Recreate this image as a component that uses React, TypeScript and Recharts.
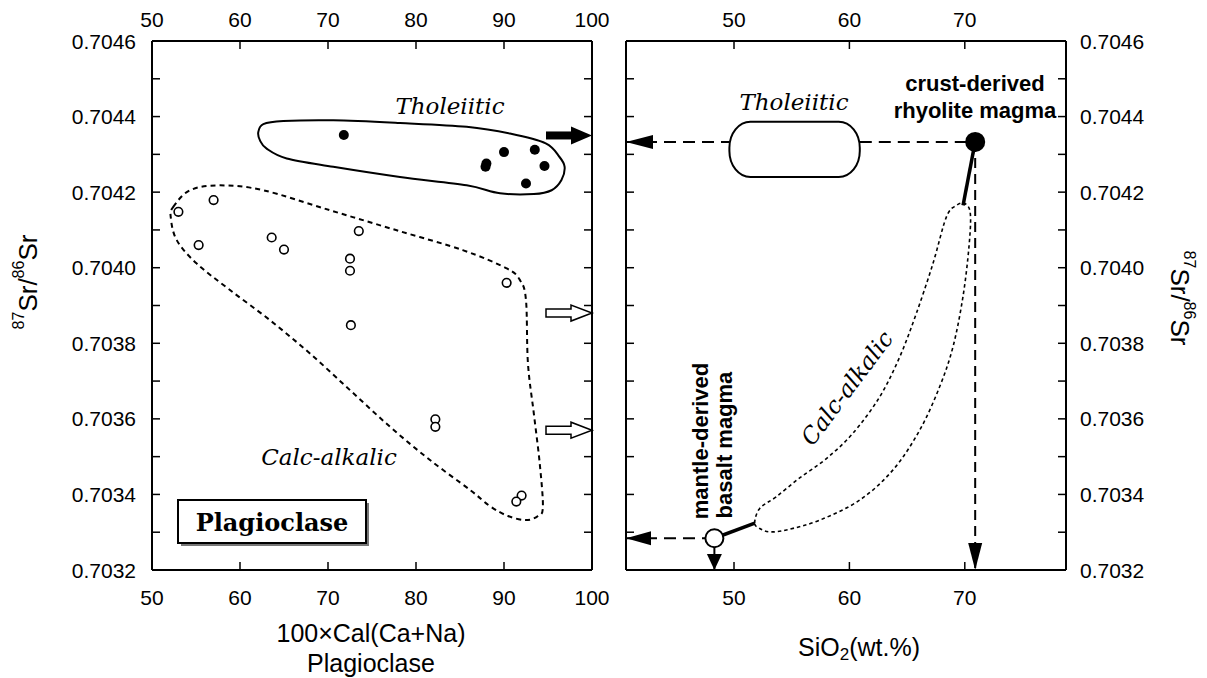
import React from "react";
import { ScatterChart, Scatter, XAxis, YAxis, ReferenceDot, ReferenceArea } from "recharts";

const SANS = "'Liberation Sans', Arial, Helvetica, sans-serif";
const SERIF = "'DejaVu Serif', 'Liberation Serif', serif";

// axes
const srDomain = [0.7032, 0.7046];
const srTicks = [
  0.7032, 0.7033, 0.7034, 0.7035, 0.7036, 0.7037, 0.7038, 0.7039, 0.704, 0.7041, 0.7042, 0.7043,
  0.7044, 0.7045, 0.7046,
];
const anDomain = [50, 100];
const anTicks = [50, 60, 70, 80, 90, 100];
const silicaDomain = [40.64, 78.77];
const silicaTicks = [50, 60, 70];

// left panel: plagioclase 87Sr/86Sr vs An content
const tholeiiticPlag = [
  { x: 71.8, y: 0.704351 },
  { x: 88.0, y: 0.704276 },
  { x: 87.9, y: 0.704267 },
  { x: 90.0, y: 0.704306 },
  { x: 93.5, y: 0.704312 },
  { x: 94.6, y: 0.704269 },
  { x: 92.5, y: 0.704223 },
];
const calcAlkalicPlag = [
  { x: 53.0, y: 0.704148 },
  { x: 57.0, y: 0.704179 },
  { x: 55.3, y: 0.70406 },
  { x: 63.6, y: 0.70408 },
  { x: 65.0, y: 0.704048 },
  { x: 73.5, y: 0.704097 },
  { x: 72.5, y: 0.704024 },
  { x: 72.5, y: 0.703992 },
  { x: 72.6, y: 0.703848 },
  { x: 90.3, y: 0.70396 },
  { x: 82.2, y: 0.703599 },
  { x: 82.2, y: 0.703579 },
  { x: 92.0, y: 0.703397 },
  { x: 91.4, y: 0.703381 },
];
const tholeiiticField = [
  { x: 62.08, y: 0.704359 },
  { x: 62.65, y: 0.70438 },
  { x: 64.92, y: 0.704388 },
  { x: 70.6, y: 0.70439 },
  { x: 78.18, y: 0.704383 },
  { x: 85.76, y: 0.704373 },
  { x: 90.68, y: 0.704355 },
  { x: 94.74, y: 0.704329 },
  { x: 96.31, y: 0.704293 },
  { x: 96.89, y: 0.704267 },
  { x: 96.53, y: 0.704232 },
  { x: 95.41, y: 0.704205 },
  { x: 93.39, y: 0.704195 },
  { x: 89.55, y: 0.704197 },
  { x: 85.76, y: 0.704218 },
  { x: 78.18, y: 0.70424 },
  { x: 70.6, y: 0.704267 },
  { x: 65.31, y: 0.704289 },
  { x: 63.03, y: 0.704315 },
  { x: 62.27, y: 0.704337 },
];
const calcAlkalicField = [
  { x: 52.42, y: 0.704161 },
  { x: 54.32, y: 0.704205 },
  { x: 57.73, y: 0.704218 },
  { x: 62.65, y: 0.704205 },
  { x: 70.23, y: 0.704152 },
  { x: 77.81, y: 0.704099 },
  { x: 85.38, y: 0.704046 },
  { x: 90.31, y: 0.703998 },
  { x: 91.82, y: 0.703967 },
  { x: 92.5, y: 0.703914 },
  { x: 92.72, y: 0.703747 },
  { x: 93.39, y: 0.703614 },
  { x: 94.06, y: 0.703482 },
  { x: 94.42, y: 0.703367 },
  { x: 93.86, y: 0.703343 },
  { x: 92.5, y: 0.703332 },
  { x: 90.45, y: 0.703343 },
  { x: 88.41, y: 0.703369 },
  { x: 86.14, y: 0.703412 },
  { x: 81.59, y: 0.703491 },
  { x: 77.05, y: 0.703579 },
  { x: 72.5, y: 0.703676 },
  { x: 67.95, y: 0.703773 },
  { x: 63.41, y: 0.703861 },
  { x: 58.86, y: 0.703941 },
  { x: 55.08, y: 0.704011 },
  { x: 52.81, y: 0.704073 },
  { x: 52.13, y: 0.704134 },
];
const filledArrowLevels = [0.70435];
const openArrowLevels = [0.70388, 0.70357];

// right panel: 87Sr/86Sr vs SiO2
const rhyoliteMagma = { x: 70.9, y: 0.704333 };
const basaltMagma = { x: 48.3, y: 0.703284 };
const calcAlkalicTop = { x: 69.85, y: 0.704165 };
const calcAlkalicBase = { x: 51.8, y: 0.703324 };
const tholeiiticBox = { x1: 49.6, x2: 60.9, y1: 0.70424, y2: 0.704386 };
const calcAlkalicTrend = [
  { x: 51.79, y: 0.703324 },
  { x: 52.23, y: 0.703363 },
  { x: 53.67, y: 0.703394 },
  { x: 55.66, y: 0.703443 },
  { x: 58.01, y: 0.703495 },
  { x: 60.31, y: 0.703562 },
  { x: 62.62, y: 0.703658 },
  { x: 64.36, y: 0.703764 },
  { x: 65.8, y: 0.703879 },
  { x: 67.24, y: 0.704011 },
  { x: 68.4, y: 0.704134 },
  { x: 69.27, y: 0.704165 },
  { x: 69.99, y: 0.70417 },
  { x: 70.48, y: 0.704143 },
  { x: 70.36, y: 0.704055 },
  { x: 69.84, y: 0.703923 },
  { x: 68.98, y: 0.703791 },
  { x: 67.82, y: 0.703685 },
  { x: 66.09, y: 0.70357 },
  { x: 63.78, y: 0.703465 },
  { x: 60.89, y: 0.703385 },
  { x: 57.43, y: 0.703332 },
  { x: 54.54, y: 0.703306 },
  { x: 53.09, y: 0.703301 },
  { x: 52.23, y: 0.70331 },
];

// closed Catmull-Rom curve through the outline points
const smoothClosed = (context: any) => {
  let pts: number[][] = [];
  return {
    areaStart() {},
    areaEnd() {},
    lineStart() {
      pts = [];
    },
    point(x: number, y: number) {
      pts.push([x, y]);
    },
    lineEnd() {
      const n = pts.length;
      if (!n) return;
      context.moveTo(pts[0][0], pts[0][1]);
      for (let i = 0; i < n; i++) {
        const p0 = pts[(i - 1 + n) % n];
        const p1 = pts[i];
        const p2 = pts[(i + 1) % n];
        const p3 = pts[(i + 2) % n];
        context.bezierCurveTo(
          p1[0] + (p2[0] - p0[0]) / 6,
          p1[1] + (p2[1] - p0[1]) / 6,
          p2[0] - (p3[0] - p1[0]) / 6,
          p2[1] - (p3[1] - p1[1]) / 6,
          p2[0],
          p2[1]
        );
      }
      context.closePath();
    },
  };
};

const TICK = 8;
const tickStroke = { stroke: "#000", strokeWidth: 1.5 };
const frame = { stroke: "#000", strokeWidth: 2 };
const tickFont = { fontFamily: SANS, fontSize: 21, fill: "#000" };

const BottomTick = (p: any) => (
  <g>
    <line x1={p.x} y1={p.y} x2={p.x} y2={p.y - TICK} {...tickStroke} />
    <text x={p.x} y={p.y + 27} textAnchor="middle" dominantBaseline="central" {...tickFont}>
      {p.payload.value}
    </text>
  </g>
);
const TopTick = (p: any) => (
  <g>
    <line x1={p.x} y1={p.y} x2={p.x} y2={p.y + TICK} {...tickStroke} />
    <text x={p.x} y={p.y - 22} textAnchor="middle" dominantBaseline="central" {...tickFont}>
      {p.payload.value}
    </text>
  </g>
);
const LeftTick = (labelled: boolean) => (p: any) => (
  <g>
    <line x1={p.x} y1={p.y} x2={p.x + TICK} y2={p.y} {...tickStroke} />
    {labelled && p.index % 2 === 0 && (
      <text x={p.x - 16} y={p.y} textAnchor="end" dominantBaseline="central" {...tickFont}>
        {Number(p.payload.value).toFixed(4)}
      </text>
    )}
  </g>
);
const RightTick = (labelled: boolean) => (p: any) => (
  <g>
    <line x1={p.x} y1={p.y} x2={p.x - TICK} y2={p.y} {...tickStroke} />
    {labelled && p.index % 2 === 0 && (
      <text x={p.x + 14} y={p.y} textAnchor="start" dominantBaseline="central" {...tickFont}>
        {Number(p.payload.value).toFixed(4)}
      </text>
    )}
  </g>
);

const noPoint = () => <g />;

const path = (key: string, data: any[], line: any, joint: any = "linear") => (
  <Scatter
    key={key}
    data={data}
    shape={noPoint}
    line={{ fill: "none", ...line }}
    lineJointType={joint}
    isAnimationActive={false}
  />
);

const openDot = (r: number, sw: number) => (p: any) => (
  <circle cx={p.cx} cy={p.cy} r={r} fill="#fff" stroke="#000" strokeWidth={sw} />
);
const filledDot = (r: number) => (p: any) => <circle cx={p.cx} cy={p.cy} r={r} fill="#000" />;

const filledArrow = (p: any) => (
  <g>
    <rect x={p.cx - 46} y={p.cy - 4} width={27} height={8} fill="#000" />
    <polygon points={`${p.cx},${p.cy} ${p.cx - 21},${p.cy - 9} ${p.cx - 21},${p.cy + 9}`} fill="#000" />
  </g>
);
const openArrow = (p: any) => (
  <polygon
    points={`${p.cx - 46},${p.cy - 4} ${p.cx - 21},${p.cy - 4} ${p.cx - 21},${p.cy - 8} ${p.cx},${p.cy} ${
      p.cx - 21
    },${p.cy + 8} ${p.cx - 21},${p.cy + 4} ${p.cx - 46},${p.cy + 4}`}
    fill="#fff"
    stroke="#000"
    strokeWidth={1.5}
  />
);
const headLeft = (len: number, half: number) => (p: any) => (
  <polygon points={`${p.cx},${p.cy} ${p.cx + len},${p.cy - half} ${p.cx + len},${p.cy + half}`} fill="#000" />
);
const headDown = (len: number, half: number) => (p: any) => (
  <polygon points={`${p.cx},${p.cy} ${p.cx - half},${p.cy - len} ${p.cx + half},${p.cy - len}`} fill="#000" />
);

// axes are 1px thick boxes (a 0px axis is not drawn), margins are reduced by 1px to match
const axes = (xDomain: number[], xTicks: number[], leftLabels: boolean, rightLabels: boolean) => [
  <XAxis
    key="xb"
    xAxisId={0}
    type="number"
    dataKey="x"
    domain={xDomain}
    ticks={xTicks}
    allowDataOverflow
    interval={0}
    height={1}
    tickSize={0}
    tickMargin={0}
    tickLine={false}
    axisLine={frame}
    tick={BottomTick}
  />,
  <XAxis
    key="xt"
    xAxisId="top"
    orientation="top"
    type="number"
    dataKey="x"
    domain={xDomain}
    ticks={xTicks}
    allowDataOverflow
    interval={0}
    height={1}
    tickSize={0}
    tickMargin={0}
    tickLine={false}
    axisLine={frame}
    tick={TopTick}
  />,
  <YAxis
    key="yl"
    yAxisId={0}
    type="number"
    dataKey="y"
    domain={srDomain}
    ticks={srTicks}
    allowDataOverflow
    interval={0}
    width={1}
    tickSize={0}
    tickMargin={0}
    tickLine={false}
    axisLine={frame}
    tick={LeftTick(leftLabels)}
  />,
  <YAxis
    key="yr"
    yAxisId="right"
    orientation="right"
    type="number"
    dataKey="y"
    domain={srDomain}
    ticks={srTicks}
    allowDataOverflow
    interval={0}
    width={1}
    tickSize={0}
    tickMargin={0}
    tickLine={false}
    axisLine={frame}
    tick={RightTick(rightLabels)}
  />,
];

function PlagioclasePanel() {
  return (
    <ScatterChart width={620} height={678} margin={{ top: 40, right: 27, bottom: 107, left: 151 }}>
      {axes(anDomain, anTicks, true, false)}
      {path("thol", tholeiiticField, { stroke: "#000", strokeWidth: 2 }, smoothClosed)}
      {path("calc", calcAlkalicField, { stroke: "#000", strokeWidth: 2, strokeDasharray: "5 4" }, smoothClosed)}
      <Scatter data={calcAlkalicPlag} shape={openDot(4.3, 1.6)} isAnimationActive={false} />
      <Scatter data={tholeiiticPlag} shape={filledDot(5)} isAnimationActive={false} />
      {filledArrowLevels.map((v) => (
        <ReferenceDot key={`f${v}`} x={100} y={v} shape={filledArrow} />
      ))}
      {openArrowLevels.map((v) => (
        <ReferenceDot key={`o${v}`} x={100} y={v} shape={openArrow} />
      ))}
    </ScatterChart>
  );
}

function SilicaPanel() {
  const left = silicaDomain[0];
  const bottom = srDomain[0];
  const ry = rhyoliteMagma.y;
  const by = basaltMagma.y;
  return (
    <ScatterChart width={607} height={678} margin={{ top: 40, right: 140, bottom: 107, left: 25 }}>
      {axes(silicaDomain, silicaTicks, false, true)}
      {path("trend", calcAlkalicTrend, { stroke: "#000", strokeWidth: 1.6, strokeDasharray: "3.5 3" }, smoothClosed)}
      {path("rv", [rhyoliteMagma, { x: rhyoliteMagma.x, y: bottom }], {
        stroke: "#000",
        strokeWidth: 2,
        strokeDasharray: "10 6",
      })}
      {path("rh1", [{ x: left, y: ry }, { x: tholeiiticBox.x1, y: ry }], {
        stroke: "#000",
        strokeWidth: 2,
        strokeDasharray: "12 7",
      })}
      {path("rh2", [{ x: tholeiiticBox.x2, y: ry }, rhyoliteMagma], {
        stroke: "#000",
        strokeWidth: 2,
        strokeDasharray: "12 7",
      })}
      {path("bh", [{ x: left, y: by }, basaltMagma], { stroke: "#000", strokeWidth: 2, strokeDasharray: "12 7" })}
      {path("bv", [basaltMagma, { x: basaltMagma.x, y: bottom }], { stroke: "#000", strokeWidth: 2 })}
      {path("rs", [rhyoliteMagma, calcAlkalicTop], { stroke: "#000", strokeWidth: 3.5 })}
      {path("bs", [basaltMagma, calcAlkalicBase], { stroke: "#000", strokeWidth: 3.5 })}
      <ReferenceArea
        x1={tholeiiticBox.x1}
        x2={tholeiiticBox.x2}
        y1={tholeiiticBox.y1}
        y2={tholeiiticBox.y2}
        shape={(p: any) => (
          <rect x={p.x} y={p.y} width={p.width} height={p.height} rx={21} ry={26} fill="#fff" stroke="#000" strokeWidth={2} />
        )}
      />
      <ReferenceDot x={left} y={ry} shape={headLeft(27, 7)} />
      <ReferenceDot x={left} y={by} shape={headLeft(25, 7)} />
      <ReferenceDot x={rhyoliteMagma.x} y={bottom} shape={headDown(27, 7)} />
      <ReferenceDot x={basaltMagma.x} y={bottom} shape={headDown(16, 7.5)} />
      <Scatter data={[rhyoliteMagma]} shape={filledDot(10)} isAnimationActive={false} />
      <Scatter data={[basaltMagma]} shape={openDot(9, 2)} isAnimationActive={false} />
    </ScatterChart>
  );
}

const sup = (t: string, size: number, up: number) => (
  <tspan fontSize={size} dy={-up}>
    {t}
  </tspan>
);

function SrTitle({ x, y, rotate }: { x: number; y: number; rotate: number }) {
  return (
    <text
      x={x}
      y={y}
      transform={`rotate(${rotate} ${x} ${y})`}
      textAnchor="middle"
      dominantBaseline="central"
      fontFamily={SANS}
      fontSize={26}
    >
      {sup("87", 16, 10)}
      <tspan dy={10}>Sr/</tspan>
      {sup("86", 16, 10)}
      <tspan dy={10}>Sr</tspan>
    </text>
  );
}

function Annotations() {
  const italic = { fontFamily: SERIF, fontStyle: "italic", fontSize: 23, textAnchor: "middle" as const };
  const bold = { fontFamily: SANS, fontWeight: 700, fontSize: 22, textAnchor: "middle" as const };
  const title = { fontFamily: SANS, fontSize: 25, textAnchor: "middle" as const };
  return (
    <svg
      width={1207}
      height={678}
      style={{ position: "absolute", left: 0, top: 0, pointerEvents: "none", overflow: "visible" }}
    >
      <SrTitle x={28} y={282} rotate={-90} />
      <SrTitle x={1180} y={298} rotate={90} />
      <text x={371} y={633} dominantBaseline="central" {...title}>
        100×Cal(Ca+Na)
      </text>
      <text x={371} y={663} dominantBaseline="central" {...title}>
        Plagioclase
      </text>
      <text x={859} y={647} dominantBaseline="central" {...title}>
        SiO
        <tspan fontSize={17} dy={7}>
          2
        </tspan>
        <tspan dy={-7}>(wt.%)</tspan>
      </text>

      <text x={450} y={106} dominantBaseline="central" {...italic}>
        Tholeiitic
      </text>
      <text x={329} y={457} dominantBaseline="central" {...italic}>
        Calc-alkalic
      </text>
      <rect x={181} y={503} width={188} height={43} fill="#777" />
      <rect x={178} y={500} width={188} height={43} fill="#fff" stroke="#000" strokeWidth={2} />
      <text
        x={272}
        y={522}
        dominantBaseline="central"
        textAnchor="middle"
        fontFamily={SERIF}
        fontWeight={700}
        fontSize={24}
      >
        Plagioclase
      </text>

      <text x={794} y={102} dominantBaseline="central" {...italic}>
        Tholeiitic
      </text>
      <text x={975} y={83} dominantBaseline="central" {...bold}>
        crust-derived
      </text>
      <text x={975} y={110} dominantBaseline="central" {...bold}>
        rhyolite magma
      </text>
      <text x={700} y={441} transform="rotate(-90 700 441)" dominantBaseline="central" {...bold}>
        mantle-derived
      </text>
      <text x={724} y={445} transform="rotate(-90 724 445)" dominantBaseline="central" {...bold}>
        basalt magma
      </text>
      <text x={847} y={388} transform="rotate(-53 847 388)" dominantBaseline="central" {...italic}>
        Calc-alkalic
      </text>
    </svg>
  );
}

export default function App() {
  return (
    <div style={{ position: "absolute", left: 0, top: 0, width: 1207, height: 678, background: "#fff" }}>
      <div style={{ position: "absolute", left: 0, top: 0 }}>
        <PlagioclasePanel />
      </div>
      <div style={{ position: "absolute", left: 600, top: 0 }}>
        <SilicaPanel />
      </div>
      <Annotations />
    </div>
  );
}
